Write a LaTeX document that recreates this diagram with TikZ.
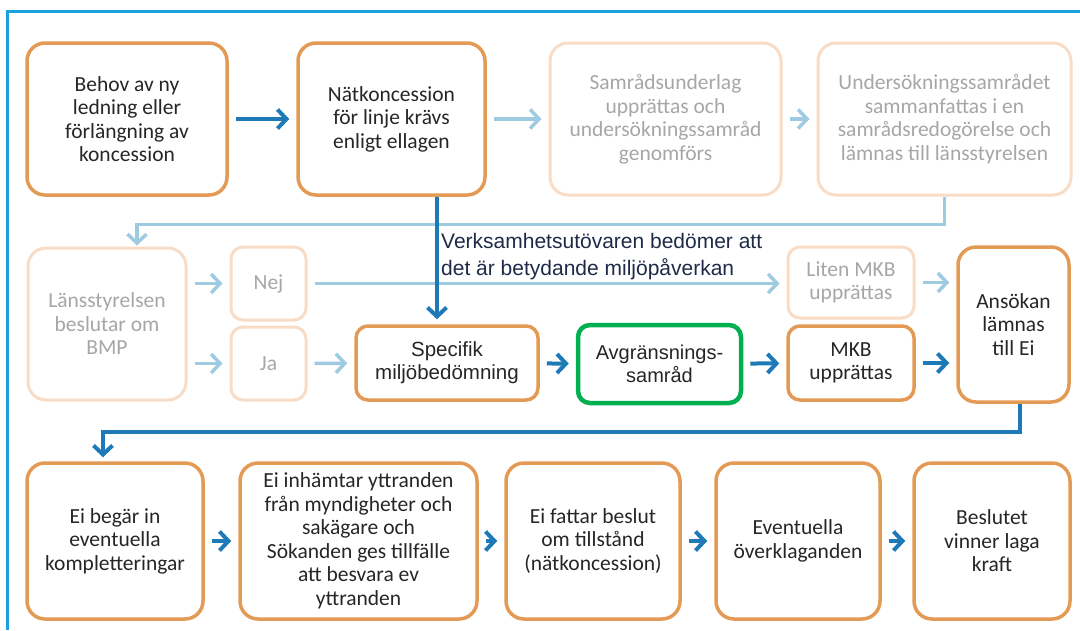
\documentclass[tikz,border=0pt]{standalone}
\usepackage{fontspec}
\setmainfont{Carlito}
\newfontfamily\arialfont{Liberation Sans}
\usetikzlibrary{arrows.meta}
\definecolor{frameblue}{HTML}{1BA1DE}
\definecolor{boxtan}{HTML}{E39A55}
\definecolor{paletan}{HTML}{F8DCC6}
\definecolor{deepblue}{HTML}{1E7AB6}
\definecolor{paleblue}{HTML}{9FCBE2}
\definecolor{greenok}{HTML}{00B050}
\definecolor{inkdark}{HTML}{262626}
\definecolor{inkgray}{HTML}{A6A6A6}
\definecolor{navy}{HTML}{1E2A48}
\tikzset{stage/.style={draw=boxtan,line width=3.5pt,rounded corners=18pt,align=center,
    text=inkdark,inner sep=0pt,font=\fontsize{21.5}{23.5}\selectfont},
  faint/.style={stage,draw=paletan,text=inkgray,line width=3pt},
  small/.style={rounded corners=12pt},
  wh/.style 2 args={minimum width=#1pt,minimum height=#2pt},
  flow/.style={-{Straight Barb[length=9pt,width=19pt]},deepblue,line width=4pt,
    shorten <=7pt,shorten >=7pt},
  dimflow/.style={flow,paleblue,line width=3.5pt}}

\begin{document}
\begin{tikzpicture}[x=1pt,y=-1pt]
\useasboundingbox (0,0) rectangle (1080,630);
\draw[frameblue,line width=3pt] (7,630) -- (7,11) -- (1080,11);
% first row
\node[stage,wh={200}{152}] (behov) at (127,119) {Behov av ny\\ledning eller\\förlängning av\\koncession};
\node[stage,wh={187}{152}] (natk) at (391.5,119) {Nätkoncession\\för linje krävs\\enligt ellagen};
\node[faint,wh={231}{152}] (underlag) at (665.5,119) {Samrådsunderlag\\upprättas och\\undersökningssamråd\\genomförs};
\node[faint,wh={253}{152}] (redog) at (944.5,119) {Undersökningssamrådet\\sammanfattas i en\\samrådsredogörelse\ och\\lämnas till länsstyrelsen};
% second row
\node[faint,wh={158}{152}] (lst) at (107,324) {Länsstyrelsen\\beslutar om\\BMP};
\node[faint,small,wh={75}{73}] (nej) at (268.5,283.5) {Nej};
\node[faint,small,wh={75}{73}] (ja) at (268.5,363.5) {Ja};
\node[stage,small,wh={182}{74},font=\arialfont\fontsize{20.5}{23}\selectfont] (spec) at (447,363) {Specifik\\miljöbedömning};
\node[stage,small,draw=greenok,line width=4.5pt,wh={163}{78},font=\arialfont\fontsize{20}{23}\selectfont] (avgr) at (659.5,364) {Avgränsnings-\\samråd};
\node[faint,small,wh={126}{71}] (liten) at (851,282.5) {Liten MKB\\upprättas};
\node[stage,small,wh={126}{74}] (mkb) at (851,363) {MKB\\upprättas};
\node[stage,wh={111}{155}] (ansok) at (1013.5,324.5) {Ansökan\\lämnas\\till Ei};
\node[font=\arialfont\fontsize{21}{27}\selectfont,text=navy,align=left,anchor=north west,inner sep=0pt] (bedom) at (441,233) {Verksamhetsutövaren bedömer att\\det är betydande miljöpåverkan};
% third row
\node[stage,wh={176}{156}] (kompl) at (115,541) {Ei begär in\\eventuella\\kompletteringar};
\node[stage,wh={237}{156}] (inhamt) at (358.5,541) {Ei inhämtar yttranden\\från myndigheter och\\sakägare och\\Sökanden ges tillfälle\\att besvara ev\\yttranden};
\node[stage,wh={174}{156}] (beslut) at (593,541) {Ei fattar beslut\\om tillstånd\\(nätkoncession)};
\node[stage,wh={164}{156}] (overkl) at (798,541) {Eventuella\\överklaganden};
\node[stage,wh={156}{156}] (laga) at (992,541) {Beslutet\\vinner laga\\kraft};
% connectors
\draw[flow] (behov) -- (natk);
\draw[dimflow] (natk) -- (underlag);
\draw[dimflow] (underlag) -- (redog);
\draw[dimflow,shorten <=0pt,shorten >=1pt] (redog.south) -- ++(0,28) -| ([xshift=30pt]lst.north);
\draw[dimflow] (lst.east |- nej) -- (nej);
\draw[dimflow] (lst.east |- ja) -- (ja);
\draw[dimflow] (ja) -- (spec);
\draw[dimflow] (nej) -- (nej -| liten.west);
\draw[dimflow] (liten) -- (liten -| ansok.west);
\draw[flow,shorten <=0pt,shorten >=5pt] ([xshift=-10pt]spec.north |- natk.south) -- ([xshift=-10pt]spec.north);
\draw[flow] (spec) -- (avgr);
\draw[flow] (avgr) -- (mkb);
\draw[flow] (mkb) -- (mkb -| ansok.west);
\draw[flow,shorten <=0pt,shorten >=4pt] ([xshift=6pt]ansok.south) -- ++(0,28) -| ([xshift=-12pt]kompl.north);
\foreach \a/\b in {kompl/inhamt,inhamt/beslut,beslut/overkl,overkl/laga}
  \draw[flow] (\a) -- (\b);
\end{tikzpicture}
\end{document}
